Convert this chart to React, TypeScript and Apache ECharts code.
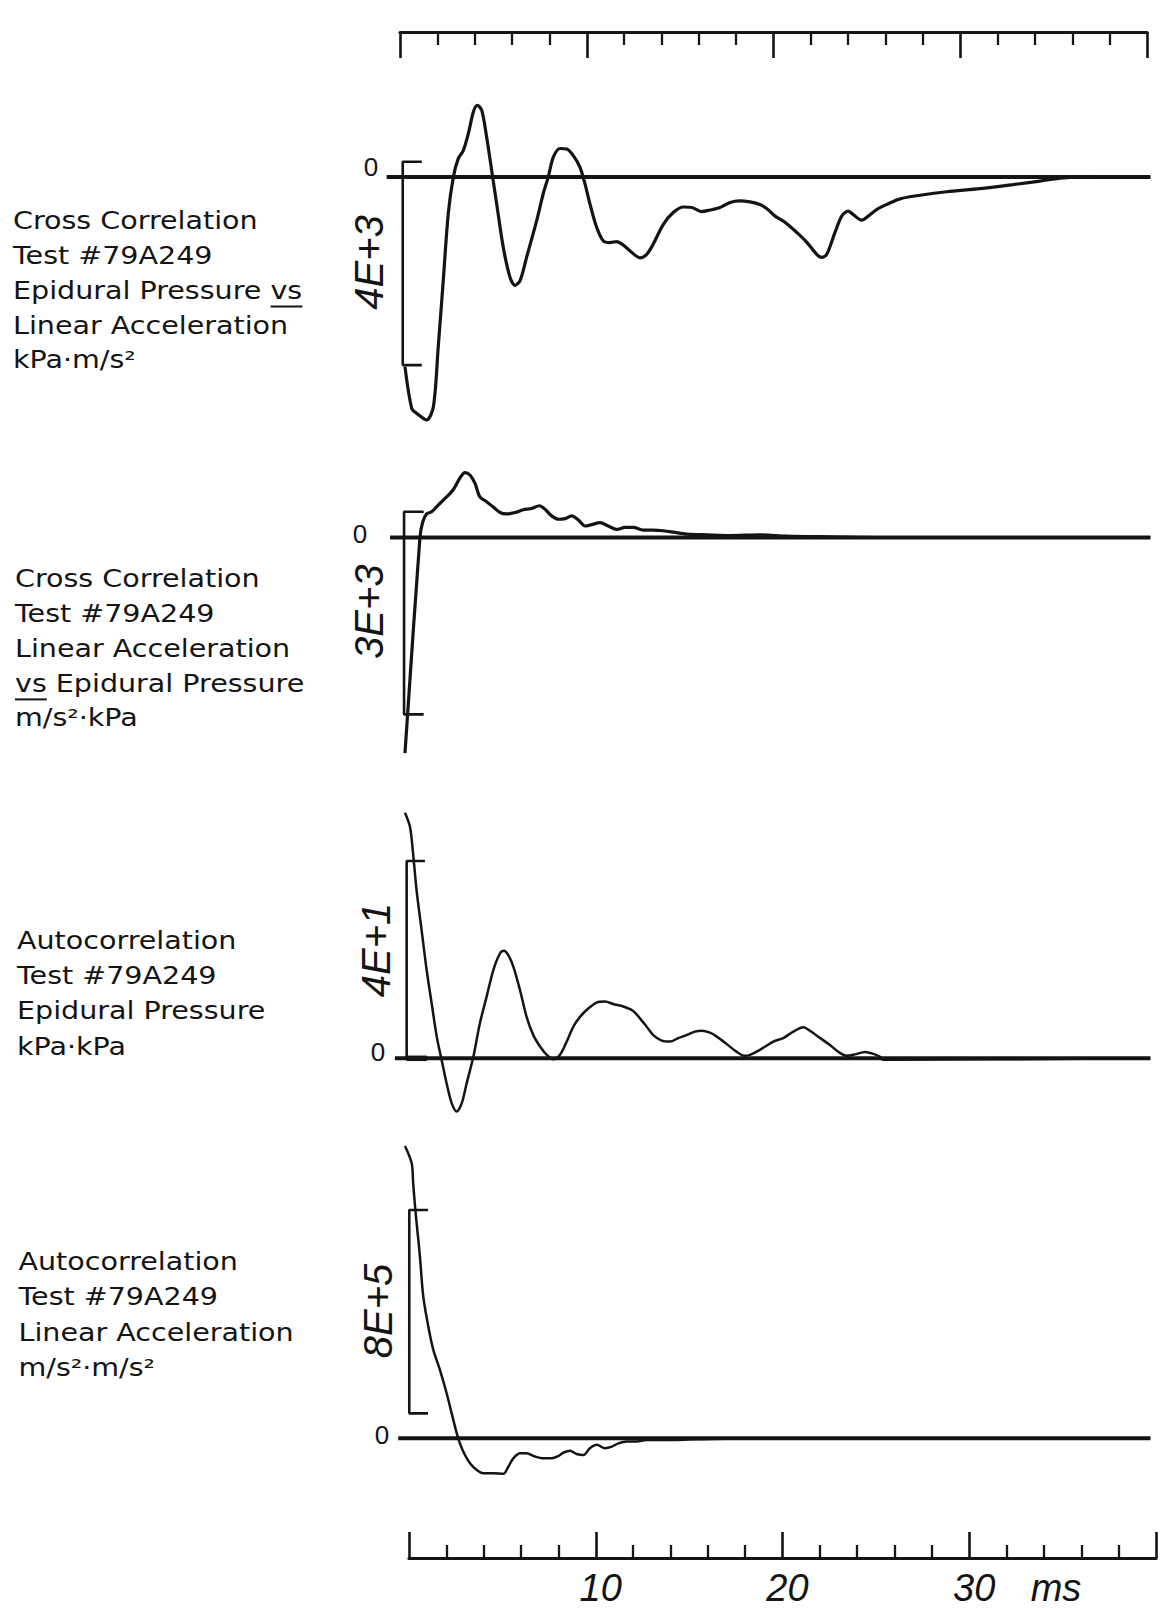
import React, { useEffect, useRef } from "react";
import * as echarts from "echarts";

// ---- Data (time in ms, values in plotted units) ----
const BOTTOM_TICK_LABELS = [10, 20, 30];
const TIME_UNIT = "ms";

const P1_T = [0, 0.36, 0.63, 1.16, 1.52, 1.78, 2.05, 2.32, 2.59, 2.85, 3.12, 3.39, 3.66, 3.87, 4.11, 4.37, 4.64, 4.91, 5.26, 5.62, 5.89, 6.16, 6.51, 7.05, 7.4, 7.67, 7.94, 8.3, 8.66, 9.01, 9.37, 9.64, 9.9, 10.26, 10.62, 10.97, 11.33, 11.69, 12.04, 12.58, 12.94, 13.29, 13.83, 14.36, 14.9, 15.35, 15.88, 16.33, 16.86, 17.4, 17.93, 18.47, 19.0, 19.36, 19.81, 20.34, 20.97, 21.5, 22.04, 22.31, 22.58, 23.02, 23.38, 23.73, 24.0, 24.45, 24.8, 25.25, 25.79, 26.5, 27.57, 29.0, 30.78, 32.56, 33.99, 35.24, 37.03, 38.8, 39.9];
const P1_V = [-3730, -4550, -4650, -4780, -4520, -3340, -2030, -710, 0, 360, 520, 850, 1280, 1410, 1310, 790, 130, -530, -1380, -1970, -2130, -2040, -1580, -860, -330, 0, 390, 560, 550, 420, 190, -140, -530, -990, -1260, -1290, -1270, -1340, -1450, -1590, -1520, -1320, -930, -700, -590, -600, -680, -650, -600, -500, -470, -490, -540, -620, -770, -890, -1090, -1280, -1520, -1580, -1520, -1090, -770, -670, -740, -850, -770, -640, -540, -430, -360, -290, -230, -150, -80, -20, 0, 0, 0];

const P2_T = [0, 0.8, 0.95, 1.16, 1.43, 1.78, 2.23, 2.59, 2.94, 3.21, 3.48, 3.75, 4.01, 4.37, 4.73, 5.09, 5.44, 5.89, 6.33, 6.78, 7.19, 7.49, 7.85, 8.21, 8.57, 8.92, 9.28, 9.64, 9.99, 10.44, 10.88, 11.33, 11.78, 12.22, 12.76, 13.29, 13.83, 14.36, 15.08, 16.15, 17.4, 19.0, 20.43, 22.75, 25.4, 39.9];
const P2_V = [-3190, 0, 230, 350, 380, 480, 600, 710, 880, 960, 925, 800, 600, 530, 450, 370, 350, 370, 410, 430, 470, 420, 320, 270, 280, 320, 260, 170, 190, 220, 170, 120, 150, 150, 110, 110, 100, 80, 50, 40, 30, 40, 20, 10, 0, 0];

const P3_T = [0, 0.27, 0.45, 0.62, 0.89, 1.16, 1.43, 1.7, 1.96, 2.23, 2.5, 2.77, 3.04, 3.3, 3.66, 4.01, 4.37, 4.73, 5.09, 5.3, 5.53, 5.8, 6.16, 6.51, 6.87, 7.23, 7.59, 7.94, 8.3, 8.66, 9.01, 9.37, 9.81, 10.26, 10.71, 11.15, 11.69, 12.22, 12.58, 12.94, 13.29, 13.74, 14.19, 14.63, 15.08, 15.52, 15.88, 16.33, 16.69, 17.22, 17.76, 18.2, 18.47, 19.0, 19.72, 20.25, 20.79, 21.32, 21.68, 22.22, 22.75, 23.2, 23.65, 24.09, 24.63, 25.07, 25.43, 25.6, 39.9];
const P3_V = [49.8, 46.9, 40.9, 34.1, 26.0, 17.9, 11.1, 4.4, -0.3, -5.1, -9.1, -10.8, -9.1, -5.1, 0.3, 7.1, 12.5, 17.9, 21.3, 21.8, 20.9, 18.6, 13.8, 8.4, 4.7, 2.4, 0.7, -0.2, 0.7, 3.4, 6.4, 8.4, 10.1, 11.3, 11.5, 11.0, 10.5, 9.6, 8.1, 6.4, 4.7, 3.6, 3.4, 4.1, 4.7, 5.4, 5.6, 5.2, 4.4, 2.9, 1.3, 0.5, 0.7, 1.7, 3.4, 4.1, 5.4, 6.3, 5.6, 4.1, 2.7, 1.3, 0.5, 0.8, 1.3, 0.9, 0.3, -0.3, 0];

const P4_T = [0, 0.36, 0.44, 0.54, 0.66, 0.8, 0.98, 1.25, 1.52, 1.87, 2.23, 2.5, 2.77, 2.94, 3.21, 3.48, 3.84, 4.19, 4.73, 5.26, 5.53, 5.8, 6.16, 6.51, 6.96, 7.4, 7.85, 8.21, 8.47, 8.83, 9.19, 9.55, 9.9, 10.26, 10.71, 11.07, 11.42, 11.87, 12.4, 12.94, 13.83, 15.62, 20, 39.9];
const P4_V = [1150000, 1082000, 1003000, 911000, 820000, 715000, 557000, 439000, 347000, 269000, 177000, 98000, 20000, -20000, -66000, -98000, -125000, -138000, -138000, -140000, -112000, -79000, -59000, -59000, -72000, -79000, -79000, -70000, -57000, -49000, -62000, -66000, -39000, -26000, -39000, -33000, -20000, -13000, -13000, -7000, -7000, -4000, 0, 0];

// scale bars (value at top and bottom of each bracket)
const SCALE_TOP = [300, 382, 40, 898000];
const SCALE_BOTTOM = [-3700, -2618, 0, 98000];
const SCALE_LABELS = ["4E+3", "3E+3", "4E+1", "8E+5"];

const TITLES = [
  ["Cross Correlation", "Test #79A249", "Epidural Pressure vs", "Linear Acceleration", "kPa·m/s²"],
  ["Cross Correlation", "Test #79A249", "Linear Acceleration", "vs Epidural Pressure", "m/s²·kPa"],
  ["Autocorrelation", "Test #79A249", "Epidural Pressure", "kPa·kPa"],
  ["Autocorrelation", "Test #79A249", "Linear Acceleration", "m/s²·m/s²"],
];

// ---- layout / style ----
const INK = "#141414";
const TITLE_FONT_SIZE = 24;
const TITLE_FONT = `${TITLE_FONT_SIZE}px "DejaVu Sans"`;
const TITLE_SX = 1.19;
const LETTER_FONT = 'italic 40px "Liberation Sans"';

const PANEL_GRIDS = [
  { top: 75.3, height: 355.9, min: -5000, max: 2000 },
  { top: 436.15, height: 337.84, min: -3500, max: 1500 },
  { top: 787.0, height: 345.3, min: -15, max: 55 },
  { top: 1120.6, height: 381.2, min: -250000, max: 1250000 },
];
const PANEL_LEFT = 386.3;
const PANEL_WIDTH = 765.9;
const ZERO_START = [-0.98, -0.8, -0.54, -0.36];
const ZERO_END = 39.9;
const BRACKET_X = [-0.12, -0.05, 0.09, 0.23];
const BRACKET_TICK_END = [0.9, 1.0, 1.07, 1.23];
const CURVE_WIDTH = [3.2, 3.2, 2.5, 2.5];
const TITLE_POS = [
  { x: 13, y: 221, dy: 34.8 },
  { x: 15, y: 579, dy: 34.8 },
  { x: 17, y: 940.7, dy: 35.3 },
  { x: 18.5, y: 1261.7, dy: 35.4 },
];
const LETTER_POS = [
  { x: 369, y: 262.5 },
  { x: 369, y: 611.7 },
  { x: 376, y: 950 },
  { x: 378, y: 1311 },
];
const ZERO_LABEL_POS = [
  { x: 371, y: 167 },
  { x: 360, y: 534 },
  { x: 378, y: 1052 },
  { x: 382, y: 1435 },
];

function measure(text: string, font: string): number {
  const ctx = document.createElement("canvas").getContext("2d");
  if (!ctx) return text.length * 12;
  ctx.font = font;
  return ctx.measureText(text).width;
}

function zip(t: number[], v: number[]) {
  return t.map((x, i) => [x, v[i]]);
}

export default function App() {
  const ref = useRef<HTMLDivElement>(null);

  useEffect(() => {
    if (!ref.current) return;
    const chart = echarts.init(ref.current, undefined, { renderer: "svg" });

    const curves = [zip(P1_T, P1_V), zip(P2_T, P2_V), zip(P3_T, P3_V), zip(P4_T, P4_V)];

    const grids: any[] = [
      { left: 400, width: 747, top: 12, height: 20, outerBoundsMode: "none" },
      ...PANEL_GRIDS.map((g) => ({
        left: PANEL_LEFT,
        width: PANEL_WIDTH,
        top: g.top,
        height: g.height,
        outerBoundsMode: "none",
      })),
      { left: 409, width: 747, top: 1530, height: 28, outerBoundsMode: "none" },
    ];

    const tickCommon = {
      show: true,
      inside: true,
      length: 26,
      lineStyle: { color: INK, width: 2.6 },
    };
    const minorCommon = {
      show: true,
      splitNumber: 5,
      length: 13,
      lineStyle: { color: INK, width: 2.3 },
    };

    const xAxes: any[] = [
      {
        gridIndex: 0,
        type: "value",
        position: "top",
        min: 0,
        max: 40,
        interval: 10,
        axisLine: { show: true, lineStyle: { color: INK, width: 3.2 } },
        axisTick: tickCommon,
        minorTick: minorCommon,
        axisLabel: { show: false },
        splitLine: { show: false },
      },
      ...PANEL_GRIDS.map((_, i) => ({
        gridIndex: i + 1,
        type: "value",
        min: -1,
        max: 40,
        show: false,
      })),
      {
        gridIndex: 5,
        type: "value",
        position: "bottom",
        min: 0,
        max: 40,
        interval: 10,
        axisLine: { show: true, lineStyle: { color: INK, width: 3.2 } },
        axisTick: tickCommon,
        minorTick: minorCommon,
        splitLine: { show: false },
        axisLabel: {
          show: true,
          margin: 11,
          color: INK,
          fontFamily: "Liberation Sans",
          fontStyle: "italic",
          fontSize: 38,
          padding: [0, 0, 0, 10],
          formatter: (v: number) => (BOTTOM_TICK_LABELS.indexOf(v) >= 0 ? String(v) : ""),
        },
      },
    ];

    const yAxes: any[] = [
      { gridIndex: 0, type: "value", min: 0, max: 1, show: false },
      ...PANEL_GRIDS.map((g, i) => ({
        gridIndex: i + 1,
        type: "value",
        min: g.min,
        max: g.max,
        show: false,
      })),
      { gridIndex: 5, type: "value", min: 0, max: 1, show: false },
    ];

    const series: any[] = [];
    PANEL_GRIDS.forEach((_, i) => {
      const base = {
        type: "line",
        xAxisIndex: i + 1,
        yAxisIndex: i + 1,
        showSymbol: false,
        symbol: "none",
        silent: true,
        clip: false,
      };
      series.push({
        ...base,
        data: [
          [ZERO_START[i], 0],
          [ZERO_END, 0],
        ],
        lineStyle: { color: INK, width: 4 },
      });
      series.push({
        ...base,
        data: [
          [BRACKET_TICK_END[i], SCALE_TOP[i]],
          [BRACKET_X[i], SCALE_TOP[i]],
          [BRACKET_X[i], SCALE_BOTTOM[i]],
          [BRACKET_TICK_END[i], SCALE_BOTTOM[i]],
        ],
        lineStyle: { color: INK, width: 2.6 },
      });
      if (SCALE_BOTTOM[i] === 0) {
        series.push({
          ...base,
          data: [
            [BRACKET_X[i], 0],
            [BRACKET_TICK_END[i] + 0.1, 0],
          ],
          lineStyle: { color: INK, width: 5.5 },
        });
      }
      series.push({
        ...base,
        data: curves[i],
        smooth: 0.3,
        lineStyle: { color: INK, width: CURVE_WIDTH[i] },
      });
    });

    // ---- texts ----
    const graphics: any[] = [];
    TITLES.forEach((lines, p) => {
      const pos = TITLE_POS[p];
      lines.forEach((line, li) => {
        graphics.push({
          type: "text",
          x: pos.x,
          y: pos.y + li * pos.dy,
          scaleX: TITLE_SX,
          silent: true,
          style: {
            text: line,
            font: TITLE_FONT,
            fill: INK,
            textAlign: "left",
            align: "left",
            textVerticalAlign: "middle",
            verticalAlign: "middle",
          },
        });
        const words = line.split(" ");
        const idx = words.indexOf("vs");
        if (idx >= 0) {
          const prefix = words.slice(0, idx).join(" ") + (idx > 0 ? " " : "");
          const x0 = pos.x + measure(prefix, TITLE_FONT) * TITLE_SX;
          const w = measure("vs", TITLE_FONT) * TITLE_SX;
          const y = pos.y + li * pos.dy + 16;
          graphics.push({
            type: "line",
            silent: true,
            shape: { x1: x0, y1: y, x2: x0 + w, y2: y },
            style: { stroke: INK, lineWidth: 2 },
          });
        }
      });
    });

    SCALE_LABELS.forEach((lab, p) => {
      graphics.push({
        type: "text",
        x: LETTER_POS[p].x,
        y: LETTER_POS[p].y,
        rotation: Math.PI / 2,
        silent: true,
        style: {
          text: lab,
          font: LETTER_FONT,
          fill: INK,
          textAlign: "center",
          align: "center",
          textVerticalAlign: "middle",
          verticalAlign: "middle",
        },
      });
      graphics.push({
        type: "text",
        x: ZERO_LABEL_POS[p].x,
        y: ZERO_LABEL_POS[p].y,
        silent: true,
        style: {
          text: "0",
          font: '26px "Liberation Sans"',
          fill: INK,
          textAlign: "center",
          align: "center",
          textVerticalAlign: "middle",
          verticalAlign: "middle",
        },
      });
    });

    graphics.push({
      type: "text",
      x: 1056,
      y: 1588,
      silent: true,
      style: {
        text: TIME_UNIT,
        font: 'italic 38px "Liberation Sans"',
        fill: INK,
        textAlign: "center",
        align: "center",
        textVerticalAlign: "middle",
        verticalAlign: "middle",
      },
    });

    chart.setOption({
      animation: false,
      backgroundColor: "#ffffff",
      grid: grids,
      xAxis: xAxes,
      yAxis: yAxes,
      series,
      graphic: graphics,
    });

    return () => chart.dispose();
  }, []);

  return (
    <div
      ref={ref}
      style={{ position: "absolute", left: 0, top: 0, width: 1165, height: 1608, background: "#fff" }}
    />
  );
}
